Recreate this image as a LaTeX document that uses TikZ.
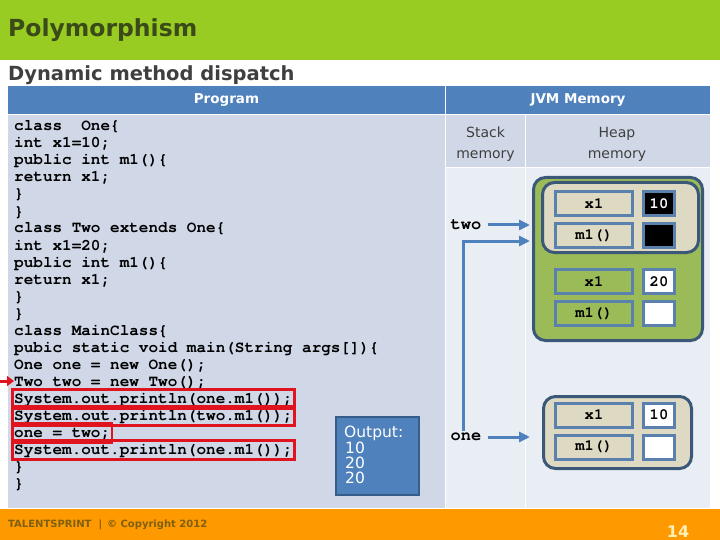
\documentclass[tikz,border=0pt]{standalone}
\usepackage{fontspec}
\setmainfont{DejaVu Sans}
\setmonofont{TeX Gyre Cursor}
\usepackage{tikz}
\usetikzlibrary{arrows.meta,positioning,fit}
\definecolor{titlegreen}{HTML}{99CC22}
\definecolor{titleink}{HTML}{3A4A18}
\definecolor{subink}{HTML}{3F3F3F}
\definecolor{hdrblue}{HTML}{4F81BD}
\definecolor{progpane}{HTML}{D0D8E8}
\definecolor{jvmpane}{HTML}{E9EDF4}
\definecolor{outborder}{HTML}{385D8A}
\definecolor{objline}{HTML}{3B5878}
\definecolor{cellline}{HTML}{5A80AE}
\definecolor{heapgreen}{HTML}{9BBB59}
\definecolor{objtan}{HTML}{DDD9C3}
\definecolor{markred}{HTML}{E0141E}
\definecolor{footorange}{HTML}{FF9900}
\definecolor{footink}{HTML}{7F6010}
\definecolor{pageno}{HTML}{FFF0B8}

\begin{document}
\begin{tikzpicture}[x=1pt,y=-1pt,
    hdrtext/.style={text=white,inner sep=0,font=\bfseries\fontsize{13.5}{16}\selectfont},
    subhdr/.style={text=subink,inner sep=0,align=center,font=\fontsize{14}{21}\selectfont},
    codeline/.style={anchor=base west,inner sep=0,text height=12pt,text depth=4pt,font=\ttfamily\bfseries\fontsize{16}{17}\selectfont},
    hlbox/.style={draw=markred,line width=2.6pt,inner sep=1.5pt},
    cuearrow/.style={draw=markred,line width=3pt,-{Triangle[length=7pt,width=10pt]}},
    outbox/.style={fill=hdrblue,draw=outborder,line width=2pt,inner sep=0},
    outtext/.style={text=white,inner sep=0,align=left,font=\fontsize{15.5}{15}\selectfont},
    objbox/.style={draw=objline,line width=3pt,rounded corners=12pt,inner sep=0},
    namecell/.style={draw=cellline,line width=3pt,minimum width=77pt,minimum height=24pt,inner sep=0,font=\ttfamily\bfseries\fontsize{15.5}{15}\selectfont},
    valcell/.style={namecell,minimum width=31pt},
    varlabel/.style={inner sep=2pt,font=\ttfamily\bfseries\fontsize{17}{17}\selectfont},
    ptr/.style={draw=hdrblue,line width=3pt,-{Triangle[length=11pt,width=10pt]}}
  ]
  \useasboundingbox (0,0) rectangle (720,540);

  % title band
  \fill[titlegreen] (0,0) rectangle (720,60);
  \node[anchor=base west,inner sep=0,text=titleink,font=\bfseries\fontsize{23.5}{28}\selectfont] (title) at (8,36.5) {Polymorphism};
  \node[anchor=base west,inner sep=0,text=subink,font=\bfseries\fontsize{19.5}{24}\selectfont] (subtitle) at (8,81) {Dynamic method dispatch};

  % table panes
  \fill[hdrblue] (8,86) rectangle (445,114);
  \fill[hdrblue] (446,86) rectangle (710,114);
  \fill[progpane] (8,115) rectangle (445,508);
  \fill[progpane] (446,115) rectangle (525,167);
  \fill[progpane] (526,115) rectangle (710,167);
  \fill[jvmpane] (446,168) rectangle (525,508);
  \fill[jvmpane] (526,168) rectangle (710,508);
  \node[hdrtext] (progLabel) at (226.5,100) {Program};
  \node[hdrtext] (jvmLabel) at (578,100) {JVM Memory};
  \node[subhdr] (stackLabel) at (485.5,144) {Stack\\memory};
  \node[subhdr] (heapLabel) at (617,144) {Heap\\memory};

  % program listing
  \foreach \txt [count=\i] in {
      {class\ \ One\{}, {int x1=10;}, {public int m1()\{}, {return x1;}, {\}}, {\}},
      {class Two extends One\{}, {int x1=20;}, {public int m1()\{}, {return x1;}, {\}}, {\}},
      {class MainClass\{}, {pubic static void main(String args[])\{},
      {One one = new One();}, {Two two = new Two();},
      {System.out.println(one.m1());}, {System.out.println(two.m1());},
      {one = two;}, {System.out.println(one.m1());}, {\}}, {\}}}
    \node[codeline] (l\i) at (14,{131+17*(\i-1)}) {\txt};
  \foreach \k in {17,...,20}
    \node[hlbox,fit=(l\k)] (hl\k) {};
  \coordinate[left=14pt of l16.west] (cue);
  \draw[cuearrow] ([yshift=1pt]cue) -- ([yshift=1pt]l16.west);

  % output
  \node[outbox,minimum width=83pt,minimum height=78pt] (output) at (377.5,456) {};
  \node[outtext,anchor=north west] (outLines) at ([xshift=9pt,yshift=-10pt]output.north west)
    {Output:\\[1pt]\hspace*{1pt}10\\\hspace*{1pt}20\\\hspace*{1pt}20};

  % heap objects
  \node[objbox,fill=heapgreen,minimum width=169pt,minimum height=163pt] (objTwo) at (618,259) {};
  \node[objbox,fill=objtan,minimum width=156pt,minimum height=70pt] (objTwoBase) at (620.5,217.5) {};
  \node[objbox,fill=objtan,minimum width=148pt,minimum height=72pt] (objOne) at (617.5,432.5) {};

  \node[namecell,fill=objtan] (baseX) at (594,203.5) {x1};
  \node[namecell,fill=objtan,below=5pt of baseX] (baseM) {m1()};
  \node[valcell,fill=black,text=white,right=8pt of baseX] (baseXv) {10};
  \node[valcell,fill=black,right=8pt of baseM] (baseMv) {};
  \node[namecell,fill=heapgreen] (ownX) at (594,281.5) {x1};
  \node[namecell,fill=heapgreen,below=5pt of ownX] (ownM) {m1()};
  \node[valcell,fill=white,right=8pt of ownX] (ownXv) {20};
  \node[valcell,fill=white,right=8pt of ownM] (ownMv) {};
  \node[namecell,fill=objtan] (oneX) at (594,415) {x1};
  \node[namecell,fill=objtan,below=5pt of oneX] (oneM) {m1()};
  \node[valcell,fill=white,right=8pt of oneX] (oneXv) {10};
  \node[valcell,fill=white,right=8pt of oneM] (oneMv) {};

  % stack references
  \node[varlabel] (two) at (466,225) {two};
  \node[varlabel] (one) at (466,437) {one};
  \coordinate (twoIn) at (530,225);
  \coordinate (oneUp) at (530,241);
  \coordinate (oneIn) at (530,437);
  \draw[ptr,shorten <=4pt] (two) -- (twoIn);
  \draw[ptr] ([xshift=-3pt]one.north) |- (oneUp);
  \draw[ptr,shorten <=4pt] (one) -- (oneIn);

  % footer
  \fill[footorange] (0,509) rectangle (720,540);
  \node[anchor=base west,inner sep=0,text=footink,font=\bfseries\fontsize{10}{12}\selectfont] (credit) at (8,527)
    {TALENTSPRINT\hspace{7pt}|\hspace{5pt}© Copyright 2012};
  \node[anchor=base,inner sep=0,text=pageno,font=\bfseries\fontsize{16}{16}\selectfont] (pageNo) at (678,537) {14};
\end{tikzpicture}
\end{document}
